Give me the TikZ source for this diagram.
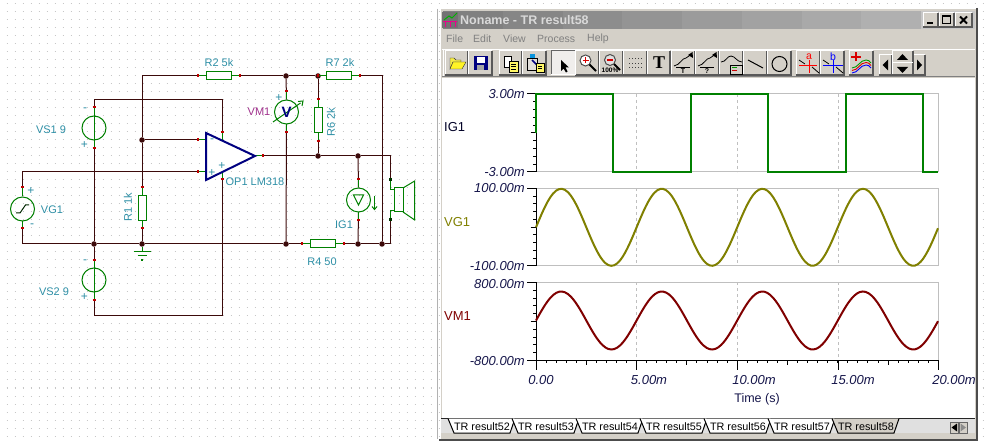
\documentclass[tikz,border=0pt]{standalone}
\usepackage{fontspec}
\setmainfont{Liberation Sans}
\newfontfamily\serifbold[Scale=1.0]{Liberation Serif}

\definecolor{wirecol}{HTML}{3C0A0A}
\definecolor{partcol}{HTML}{008000}
\definecolor{labcol}{HTML}{2E8FA6}
\definecolor{pincol}{HTML}{C00000}
\definecolor{chrome}{HTML}{D4D0C8}
\definecolor{opcol}{HTML}{000080}
\definecolor{vmcol}{HTML}{A0308C}
\definecolor{axcol}{HTML}{15154A}
\definecolor{olivetrace}{HTML}{808000}
\definecolor{redtrace}{HTML}{800000}

\tikzset{
	griddot/.style={black!22, line width=1pt, dash pattern=on 1pt off 7pt},
	wire/.style={wirecol, line width=1pt},
	stub/.style={partcol, line width=1pt},
	res/.style={draw=partcol, line width=1pt, fill=white, inner sep=0pt, minimum width=25pt, minimum height=8pt},
	vres/.style={res, minimum width=8pt, minimum height=25pt},
	src/.style={circle, draw=partcol, line width=1pt, inner sep=0pt, minimum size=24pt},
	junction/.style={circle, fill=wirecol, inner sep=0pt, minimum size=5.5pt},
	lab/.style={labcol, inner sep=0pt, font=\fontsize{11}{12}\selectfont},
	sign/.style={labcol, inner sep=0pt, font=\fontsize{12}{12}\selectfont},
	menu/.style={black!50, inner sep=0pt, anchor=west, font=\fontsize{10.5}{12}\selectfont},
	axlab/.style={axcol, inner sep=0pt, font=\itshape\fontsize{13}{14}\selectfont},
	tablab/.style={black, inner sep=0pt, font=\fontsize{10.8}{13}\selectfont},
	framegray/.style={black!25, line width=1pt},
	trace/.style={line width=2pt, line join=miter},
}

\newcommand{\hpin}[2]{
	\draw[stub] (#1) -- ++(#2,0);
	\draw[pincol, line width=2pt] (#1) ++(#2,-1.5) -- ++(0,3);
}
\newcommand{\vpin}[2]{
	\draw[stub] (#1) -- ++(0,#2);
	\draw[pincol, line width=2pt] (#1) ++(-1.5,#2) -- ++(3,0);
}
\newcommand{\toolbtn}[4]{
	\fill[chrome] (#1,#3) rectangle (#2,#4);
	\draw[white, line width=1pt] (#1,#4) -- (#1,#3) -- (#2,#3);
	\draw[black!65, line width=1.5pt] (#1,#4) -- (#2,#4) -- (#2,#3);
}

\begin{document}
\begin{tikzpicture}[x=1pt, y=-1pt]
	\useasboundingbox (0,0) rectangle (985,443);
	\fill[white] (0,0) rectangle (985,443);
	\foreach \row in {4,12,...,444} {
		\draw[griddot] (6.5,\row) -- (985,\row);
	}

	% schematic parts
	\node[src] (VS1) at (94,128) {};
	\node[src] (VS2) at (94,280) {};
	\node[src] (VG1) at (22.5,209) {};
	\node[src] (VM1) at (286.5,112) {};
	\node[src] (IG1) at (358.5,200) {};
	\node[vres] (R1) at (142,208.5) {};
	\node[vres] (R6) at (318,120) {};
	\node[res] (R2) at (218.5,76) {};
	\node[res] (R7) at (338.5,76) {};
	\node[res] (R4) at (322.5,244) {};

	\node[junction] (jA) at (94,244) {};
	\node[junction] (jB) at (142,244) {};
	\node[junction] (jC) at (286,244) {};
	\node[junction] (jD) at (358,244) {};
	\node[junction] (jE) at (382,244) {};
	\node[junction] (jF) at (142,140) {};
	\node[junction] (jG) at (286,76) {};
	\node[junction] (jH) at (318,76) {};
	\node[junction] (jI) at (318,156) {};
	\node[junction] (jJ) at (358,156) {};

	\coordinate (opM) at (206,140);
	\coordinate (opP) at (206,172);
	\coordinate (opO) at (255,156);
	\coordinate (opVp) at (222,141);
	\coordinate (opVn) at (222,171);
	\coordinate (topL) at (94,100);
	\coordinate (topR) at (222,100);
	\coordinate (lowL) at (94,316);
	\coordinate (lowR) at (222,316);
	\coordinate (spkT) at (390,180);
	\coordinate (spkB) at (390,220);
	\coordinate (spkC) at (390,244);
	\coordinate (spkO) at (390,156);
	\coordinate (gnd) at (142,252);

	% wires
	\draw[wire] (VS1.north) -- (topL) -- (topR) -- (opVp);
	\draw[wire] (VS1.south) -- (jA) -- (VS2.north);
	\draw[wire] (VS2.south) -- (lowL) -- (lowR) -- (opVn);
	\draw[wire] (VG1.north) |- (opP);
	\draw[wire] (VG1.south) |- (jA);
	\draw[wire] (jA) -- (jB) -- (jC) -- (R4.west);
	\draw[wire] (R4.east) -- (jD) -- (jE) -- (spkC) -- (spkB);
	\draw[wire] (R2.west) -| (jF);
	\draw[wire] (jF) -- (R1.north);
	\draw[wire] (R1.south) -- (jB);
	\draw[wire] (jF) -- (opM);
	\draw[wire] (R2.east) -- (jG) -- (jH) -- (R7.west);
	\draw[wire] (R7.east) -| (jE);
	\draw[wire] (jG) -- (VM1.north);
	\draw[wire] (VM1.south) -- (jC);
	\draw[wire] (jH) -- (R6.north);
	\draw[wire] (R6.south) -- (jI);
	\draw[wire] (opO) -- (jI) -- (jJ) -- (spkO) -- (spkT);
	\draw[wire] (jJ) -- (IG1.north);
	\draw[wire] (IG1.south) -- (jD);
	\draw[stub] (jB) -- (gnd);

	% pins
	\vpin{VS1.north}{-8} \vpin{VS1.south}{8}
	\vpin{VS2.north}{-7} \vpin{VS2.south}{8}
	\vpin{VG1.north}{-9} \vpin{VG1.south}{7}
	\vpin{R1.north}{-8} \vpin{R1.south}{7}
	\vpin{R6.north}{-8} \vpin{R6.south}{8}
	\vpin{VM1.north}{-8} \vpin{VM1.south}{8}
	\vpin{IG1.north}{-8} \vpin{IG1.south}{8}
	\vpin{opVp}{-9} \vpin{opVn}{8}
	\hpin{R2.west}{-8} \hpin{R2.east}{8}
	\hpin{R7.west}{-8} \hpin{R7.east}{8}
	\hpin{R4.west}{-8} \hpin{R4.east}{8}
	\hpin{opM}{-8} \hpin{opP}{-8} \hpin{opO}{8}

	% symbols
	\draw[stub] (VS1.north) -- (VS1.south);
	\draw[stub] (VS2.north) -- (VS2.south);
	\draw[stub] (gnd) ++(-8.5,0) -- ++(17,0);
	\draw[stub] (gnd) ++(-4.5,4) -- ++(9,0);
	\fill[partcol] (141,259) rectangle (143,261);
	\draw[black!70!partcol, line width=1pt] (16,213) -- (20,213) -- (25.5,205) -- (29,205);
	\draw[opcol, line width=2pt, line join=miter, fill=white] (206,133) -- (206,180) -- (opO) -- cycle;
	\draw[stub] (273,122) -- (300.5,103);
	\draw[stub] (298,101.5) -- (303,101) -- (302,106);
	\node[font=\bfseries\fontsize{15}{15}\selectfont, opcol, inner sep=0pt] (VM1sym) at (286.5,112) {V};
	\draw[stub] (353.5,195) -- (363.5,195) -- (358.5,205) -- cycle;
	\draw[stub] (374.5,196) -- (374.5,209);
	\draw[stub] (372,206.5) -- (374.5,209.5) -- (377,206.5);
	\draw[stub] (spkT) -- (390,190) -- (394,190);
	\draw[stub] (spkB) -- (390,211) -- (394,211);
	\draw[stub] (394,188) rectangle (403,212);
	\draw[stub] (403,188) -- (414.7,181) -- (414.7,220) -- (403,212);
	\fill[black!60!partcol] (388.5,178.5) rectangle (391.5,181.5);
	\fill[black!60!partcol] (388.5,218.5) rectangle (391.5,221.5);

	% labels
	\node[lab] (lbVS1) at (51,130) {VS1 9};
	\node[lab] (lbVS2) at (54,292) {VS2 9};
	\node[lab] (lbVG1) at (52,210) {VG1};
	\node[lab, rotate=90] (lbR1) at (128,207) {R1 1k};
	\node[lab] (lbR2) at (219,63) {R2 5k};
	\node[lab] (lbR7) at (340,63) {R7 2k};
	\node[lab, rotate=90] (lbR6) at (331,122) {R6 2k};
	\node[lab] (lbR4) at (322,262) {R4 50};
	\node[lab] (lbIG1) at (344,225) {IG1};
	\node[lab] (lbOP1) at (255,182) {OP1 LM318};
	\node[lab, vmcol] (lbVM1) at (259,112) {VM1};
	\node[sign] (sgA) at (84.5,145) {+};
	\node[sign] (sgB) at (85,110) {-};
	\node[sign] (sgC) at (84.5,297) {+};
	\node[sign] (sgD) at (85,262) {-};
	\node[sign] (sgE) at (31,191) {+};
	\node[sign] (sgF) at (32,226) {-};
	\node[sign] (sgG) at (212,141) {-};
	\node[sign] (sgH) at (212,173) {+};
	\node[sign] (sgI) at (222,166) {+};
	\node[sign] (sgJ) at (279,98) {+};

	% window
	\fill[chrome] (440,9) rectangle (977,439);
	\draw[white, line width=1pt] (440,439) -- (440,9) -- (977,9);
	\draw[black!70, line width=2pt] (977,8) -- (977,440) -- (439,440);
	\draw[black!30, line width=1pt] (437.5,9) -- (437.5,439);
	\fill[black!22] (443,11) rectangle (975,29);
	\foreach \i in {0,...,7} {
		\pgfmathsetmacro{\shade}{50-2.7*\i}
		\pgfmathsetmacro{\blockx}{443+59.75*\i}
		\fill[black!\shade] (\blockx,11) rectangle (\blockx+59.75,29);
	}
	\node[inner sep=0pt, anchor=west, white!85!black, font=\bfseries\fontsize{12.5}{14}\selectfont] (title) at (460,20) {Noname - TR result58};
	\fill[black!55] (442,12) rectangle (458,28);
	\draw[magenta, line width=1pt] (443,22) -- (457,22);
	\draw[magenta, line width=1pt] (445,22) -- (445,27) (450,22) -- (450,27) (455,22) -- (455,27);
	\draw[green!70!black, line width=1pt] (444,20) -- (449,16) -- (452,18) -- (457,13);

	\toolbtn{923}{938}{13}{27}
	\toolbtn{939}{954}{13}{27}
	\toolbtn{955}{972}{13}{27}
	\draw[black, line width=2pt] (927,23) -- (933,23);
	\draw[black, line width=1pt] (942.5,16) rectangle (950.5,24);
	\draw[black, line width=2pt] (942.5,16.5) -- (950.5,16.5);
	\draw[black, line width=1.8pt] (960,16.5) -- (967,23.5) (967,16.5) -- (960,23.5);

	\node[menu] (mFile) at (446,39) {File};
	\node[menu] (mEdit) at (473,39) {Edit};
	\node[menu] (mView) at (503,39) {View};
	\node[menu] (mProcess) at (537,39) {Process};
	\node[menu] (mHelp) at (587,39) {Help};

	% toolbar
	\draw[white, line width=1pt] (442,49.5) -- (975,49.5);
	\draw[black!50, line width=1pt] (442,77) -- (975,77);
	\draw[white, line width=1pt] (443,50) -- (443,76);
	\foreach \l/\r in {445/468,468/492,499/522,522/546,575/599,599/623,623/647,647/670,671/695,695/719,719/743,743/767,767/791,796/820,820/844,849/873} {
		\toolbtn{\l}{\r}{51}{75}
	}
	\fill[chrome!35!white] (551,51) rectangle (575,75);
	\draw[black!60, line width=1pt] (551,75) -- (551,51) -- (575,51);
	\draw[white, line width=1pt] (551,75) -- (575,75) -- (575,51);

	\draw[black!80, fill=yellow!70!chrome] (450,69) -- (450,58) -- (454,58) -- (456,60) -- (461,60) -- (461,62) -- (453,62) -- cycle;
	\draw[black!80, fill=yellow!85!white] (450,69) -- (453,62) -- (466,62) -- (462,69) -- cycle;
	\fill[opcol] (474,56) rectangle (488,70);
	\fill[white] (477,57) rectangle (485,63);
	\fill[black!35] (477,65) rectangle (484,70);
	\draw[black, fill=white, line width=0.8pt] (504,56) rectangle (511,67);
	\draw[black, fill=yellow!60!white, line width=0.8pt] (509,61) rectangle (518,72);
	\draw[black, line width=0.7pt] (511,64) -- (516,64) (511,66.5) -- (516,66.5) (511,69) -- (516,69);
	\draw[black, fill=chrome!70!white, line width=0.8pt] (527,58) rectangle (537,70);
	\fill[cyan!80!blue] (530,54) rectangle (535,58);
	\draw[opcol, line width=1.5pt] (532,60) -- (538,66);
	\draw[black, fill=yellow!60!white, line width=0.8pt] (536,63) rectangle (544,72);
	\draw[black, line width=0.7pt] (538,66) -- (542,66) (538,68.5) -- (542,68.5);
	\fill[black] (561,60) -- (561,71) -- (563.5,68.5) -- (566,72.5) -- (567.5,71.5) -- (565.5,67.5) -- (569,67.5) -- cycle;

	\draw[black!70, line width=1pt, fill=white] (585.5,60.5) circle (5.5);
	\draw[red!85!black, line width=1.5pt] (582.5,60.5) -- (588.5,60.5) (585.5,57.5) -- (585.5,63.5);
	\draw[black, line width=2pt] (589.5,64.5) -- (596,71);
	\draw[black!70, line width=1pt, fill=black!12] (610,60) circle (5.5);
	\draw[red!85!black, line width=1.5pt] (607,60) -- (613,60);
	\draw[black, line width=2pt] (614,64) -- (620,70);
	\node[inner sep=0pt, font=\bfseries\fontsize{6.5}{7}\selectfont] (pct) at (610,70.5) {100\%};
	\foreach \px in {629,632.2,...,642.5} {
		\foreach \py in {59,63.5,68} {
			\fill[black!75] (\px-0.5,\py-0.5) rectangle (\px+0.5,\py+0.5);
		}
	}
	\node[inner sep=0pt, font=\serifbold\bfseries\fontsize{18}{18}\selectfont] (bigT) at (659,63) {T};

	\draw[black, line width=0.8pt] (674,66) .. controls (680,65) and (682,58) .. (686,58) -- (692,54);
	\fill[black] (692.5,52) -- (693,58) -- (688,55) -- cycle;
	\draw[black, line width=0.8pt] (676,67) -- (690,67);
	\node[inner sep=0pt, font=\bfseries\fontsize{7}{7}\selectfont] (iconT) at (683,71) {T};
	\draw[black, line width=0.8pt] (698,66) .. controls (704,65) and (706,58) .. (710,58) -- (716,54);
	\fill[black] (716.5,52) -- (717,58) -- (712,55) -- cycle;
	\draw[black, line width=0.8pt] (700,67) -- (714,67);
	\node[inner sep=0pt, font=\bfseries\fontsize{7}{7}\selectfont] (iconQ) at (707,71) {?};
	\draw[black, line width=0.8pt] (721,62) .. controls (726,62) and (727,56) .. (731,56) .. controls (735,56) and (737,62) .. (742,62);
	\draw[black, line width=0.8pt] (730,65) rectangle (742,74);
	\draw[green!60!black, line width=1pt] (732,68) -- (737,68);
	\draw[red!80!black, line width=1pt] (732,71) -- (737,71);
	\draw[black, line width=1pt] (748,60) -- (763,68);
	\draw[black, line width=1pt] (779.5,64) circle (7.5);

	\draw[red, line width=1pt] (799,66) -- (817,66) (809,60) -- (809,73);
	\draw[black, line width=0.8pt] (799,60) -- (805,64) (812,67) -- (819,73);
	\node[inner sep=0pt, red, font=\fontsize{10.5}{10}\selectfont] (curA) at (809,57) {a};
	\draw[blue, line width=1pt] (823,66) -- (843,66) (833,60) -- (833,73);
	\draw[black, line width=0.8pt] (823,60) -- (829,64) (836,67) -- (843,73);
	\node[inner sep=0pt, blue, font=\fontsize{10.5}{10}\selectfont] (curB) at (833,57) {b};

	\draw[red!85!black, line width=2pt] (851,57) -- (861,57) (856,52.5) -- (856,61.5);
	\draw[green!60!black, line width=0.9pt] (852,68) .. controls (858,68) and (860,60) .. (866,60) .. controls (868,60) and (870,61) .. (871,63);
	\draw[red!85!black, line width=0.9pt] (852,70.5) .. controls (858,70.5) and (860,62.5) .. (866,62.5) .. controls (868,62.5) and (870,63.5) .. (871,65.5);
	\draw[blue, line width=0.9pt] (852,73) .. controls (858,73) and (860,65) .. (866,65) .. controls (868,65) and (870,66) .. (871,68);

	\toolbtn{879}{892}{55}{75}
	\toolbtn{913}{925}{55}{75}
	\toolbtn{892}{913}{51}{63}
	\toolbtn{892}{913}{63}{75}
	\fill[black] (882.5,65) -- (888,59.5) -- (888,70.5) -- cycle;
	\fill[black] (922,65) -- (917,59.5) -- (917,70.5) -- cycle;
	\fill[black] (902.5,54) -- (897,60) -- (908,60) -- cycle;
	\fill[black] (902.5,73) -- (897,67) -- (908,67) -- cycle;

	% plot panel
	\fill[white] (442,78) rectangle (975,418);
	\foreach \t/\b in {94/172,188.5/266,282.5/360.5} {
		\draw[framegray] (536,\t) -- (938.5,\t) -- (938.5,\b) -- (536,\b);
		\foreach \vx in {636.6,737,838} {
			\draw[black!25, line width=1pt, dash pattern=on 3pt off 3pt] (\vx,\t) -- (\vx,\b);
		}
		\draw[black, line width=1pt] (536,\t) -- (536,\b);
		\draw[black, line width=1pt] (527,\t) -- (536,\t) (527,\b) -- (536,\b);
		\foreach \k in {1,...,9} {
			\pgfmathsetmacro{\ty}{\t+(\b-\t)*\k/10}
			\draw[black, line width=1pt] (533,\ty) -- (536,\ty);
		}
		\draw[black, line width=1pt] (530.5,{(\t+\b)/2}) -- (536,{(\t+\b)/2});
	}
	\draw[black, line width=1pt] (536,360.5) -- (938.5,360.5);
	\foreach \k in {1,...,40} {
		\pgfmathsetmacro{\tx}{536+10.06*\k}
		\draw[black, line width=1pt] (\tx,360.5) -- (\tx,363);
	}
	\foreach \tx in {586.3,686.8,787.5,888.3} {
		\draw[black, line width=1pt] (\tx,360.5) -- (\tx,365.5);
	}
	\foreach \tx in {536,636.6,737,838,938.5} {
		\draw[black, line width=1pt] (\tx,360.5) -- (\tx,370);
	}

	\draw[partcol, trace] (536,133) -- (536,94) -- (613,94) -- (613,172) -- (691,172) -- (691,94) -- (768,94) -- (768,172) -- (846,172) -- (846,94) -- (923,94) -- (923,172) -- (938,172);
	\draw[olivetrace, trace] plot[domain=0:402, samples=140, smooth] ({536+\x},{227.3-38.5*sin(\x/100.6*360)});
	\draw[redtrace, trace] plot[domain=0:402, samples=140, smooth] ({536+\x},{320.5-29*sin(\x/100.6*360)});

	\node[axlab, anchor=east] (y1a) at (525,94) {3.00m};
	\node[axlab, anchor=east] (y1b) at (525,172) {-3.00m};
	\node[axlab, anchor=east] (y2a) at (525,188.5) {100.00m};
	\node[axlab, anchor=east] (y2b) at (525,266) {-100.00m};
	\node[axlab, anchor=east] (y3a) at (525,284) {800.00m};
	\node[axlab, anchor=east] (y3b) at (525,361) {-800.00m};
	\node[axlab] (x0) at (541,380) {0.00};
	\node[axlab] (x1) at (649,380) {5.00m};
	\node[axlab] (x2) at (754,380) {10.00m};
	\node[axlab] (x3) at (853,380) {15.00m};
	\node[axlab] (x4) at (954,380) {20.00m};
	\node[axlab, font=\fontsize{12.5}{14}\selectfont] (xname) at (757,399) {Time (s)};
	\node[axlab, font=\fontsize{13}{14}\selectfont, black!85!blue, anchor=west] (nIG1) at (444,127) {IG1};
	\node[axlab, font=\fontsize{13}{14}\selectfont, olivetrace, anchor=west] (nVG1) at (444,222) {VG1};
	\node[axlab, font=\fontsize{13}{14}\selectfont, redtrace, anchor=west] (nVM1) at (444,316) {VM1};

	% tabs
	\fill[black!12] (441,419) rectangle (975,433);
	\draw[black!85, line width=1pt] (441,418.5) -- (975,418.5);
	\foreach \c/\n in {482/52,546/53,610/54,674/55,738/56,802/57} {
		\draw[black, line width=1pt, fill=white] (\c-34,418.5) -- (\c-28,433) -- (\c+28,433) -- (\c+33,418.5);
		\node[tablab] (tab\n) at (\c,427) {TR result\n};
	}
	\draw[black, line width=1pt, fill=chrome] (832,418.5) -- (838,433) -- (894,433) -- (899,418.5);
	\node[tablab] (tab58) at (866,427) {TR result58};
	\draw[black!60, line width=1pt, fill=chrome] (950,422) rectangle (958.5,433);
	\draw[black!60, line width=1pt, fill=chrome] (959,422) rectangle (967,433);
	\fill[black] (951.5,427.5) -- (957,423.5) -- (957,431.5) -- cycle;
	\fill[black!45] (966,427.5) -- (960.5,423.5) -- (960.5,431.5) -- cycle;
\end{tikzpicture}
\end{document}
